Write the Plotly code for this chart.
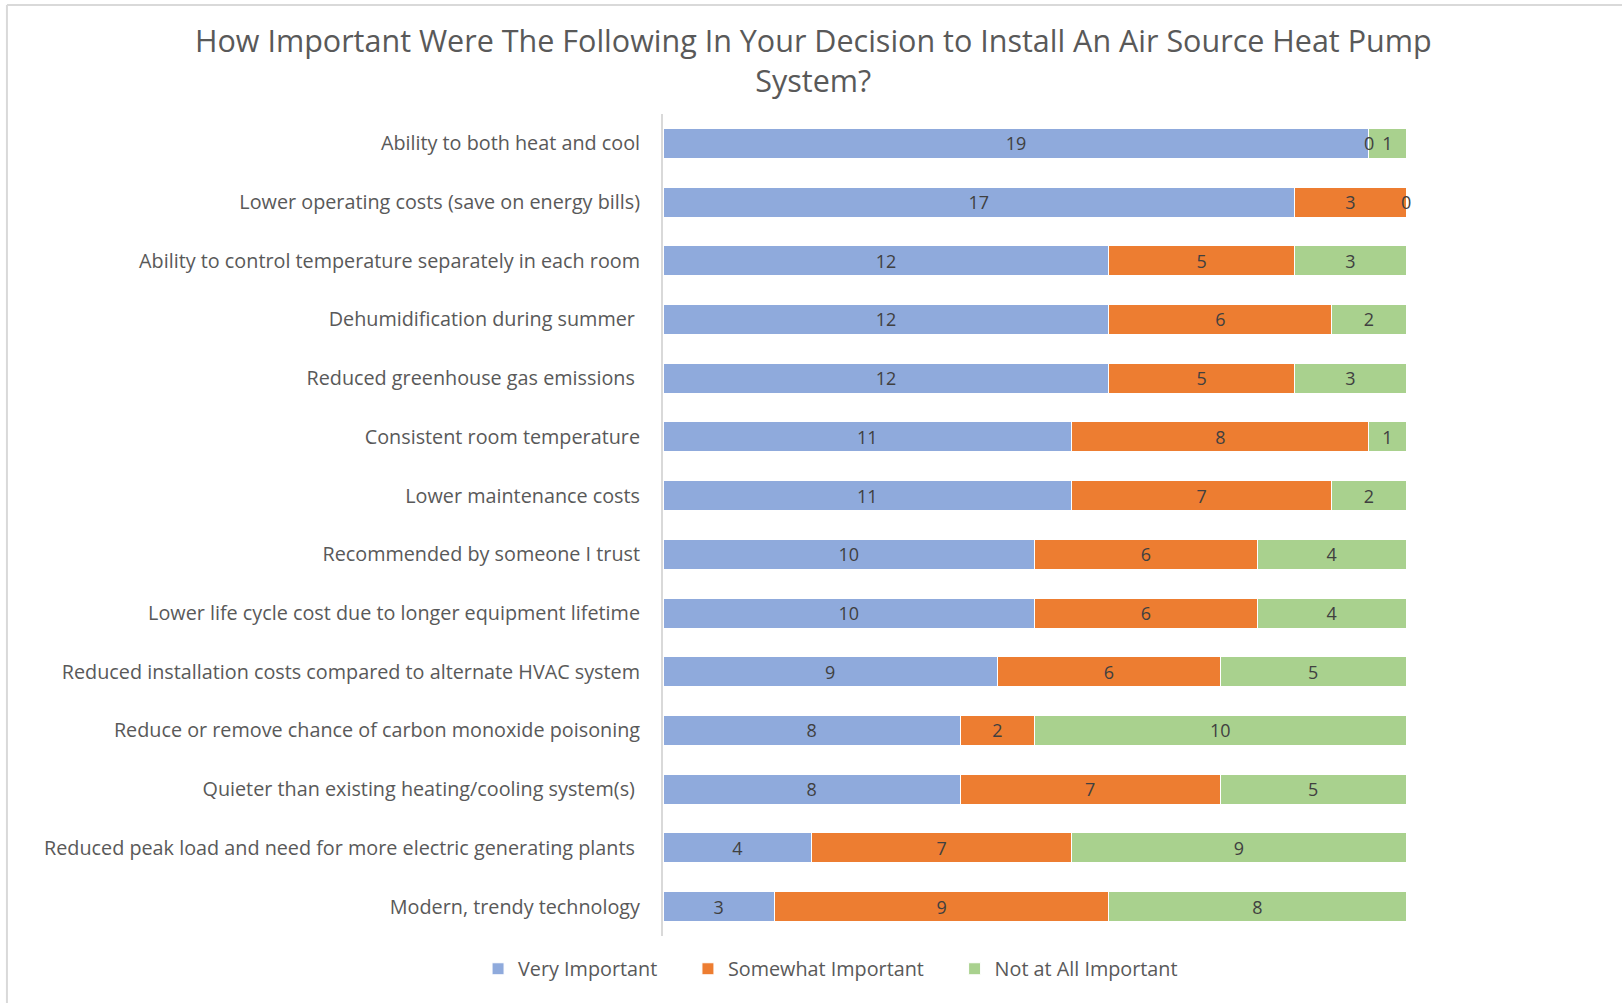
import plotly.graph_objects as go

categories = [
    "Ability to both heat and cool",
    "Lower operating costs (save on energy bills)",
    "Ability to control temperature separately in each room",
    "Dehumidification during summer ",
    "Reduced greenhouse gas emissions ",
    "Consistent room temperature",
    "Lower maintenance costs",
    "Recommended by someone I trust",
    "Lower life cycle cost due to longer equipment lifetime",
    "Reduced installation costs compared to alternate HVAC system",
    "Reduce or remove chance of carbon monoxide poisoning",
    "Quieter than existing heating/cooling system(s) ",
    "Reduced peak load and need for more electric generating plants ",
    "Modern, trendy technology",
]
very_important = [19, 17, 12, 12, 12, 11, 11, 10, 10, 9, 8, 8, 4, 3]
somewhat_important = [0, 3, 5, 6, 5, 8, 7, 6, 6, 6, 2, 7, 7, 9]
not_important = [1, 0, 3, 2, 3, 1, 2, 4, 4, 5, 10, 5, 9, 8]

series = [
    ("Very Important", very_important, "#8FAADC"),
    ("Somewhat Important", somewhat_important, "#ED7D31"),
    ("Not at All Important", not_important, "#A9D18E"),
]

FONT = "Open Sans"
LABEL_COLOR = "#404040"
TEXT_COLOR = "#595959"
PAD = "\u00a0" * 5  # extra room between legend entries

fig = go.Figure()
notes = []
base = [0] * len(categories)
for name, vals, color in series:
    fig.add_trace(go.Bar(
        name=name + PAD,
        y=categories,
        x=vals,
        orientation="h",
        marker=dict(color=color, line=dict(color="white", width=1)),
        text=[str(v) if v else "" for v in vals],
        textposition="inside",
        insidetextanchor="middle",
        textangle=0,
        textfont=dict(family=FONT, size=18, color=LABEL_COLOR),
        hoverinfo="skip",
    ))
    # zero-width segments still get their "0" label at the segment position
    for i, v in enumerate(vals):
        if v == 0:
            notes.append(dict(
                x=base[i], y=categories[i], xref="x", yref="y",
                text="0", showarrow=False,
                font=dict(family=FONT, size=18, color=LABEL_COLOR),
            ))
    base = [b + v for b, v in zip(base, vals)]

# chart title
notes.append(dict(
    text="How Important Were The Following In Your Decision to Install An Air Source Heat Pump<br>System?",
    xref="paper", yref="paper", x=0.203, y=1.0657,
    xanchor="center", yanchor="middle", showarrow=False,
    font=dict(family=FONT, size=30.5, color=TEXT_COLOR),
))

# outer frame of the chart area
frame = dict(type="line", xref="paper", yref="paper",
             line=dict(color="#D9D9D9", width=2), layer="below")
shapes = [
    dict(frame, x0=-0.883, x1=1.4, y0=1.1326, y1=1.1326),
    dict(frame, x0=-0.883, x1=-0.883, y0=-0.2, y1=1.1326),
]

fig.update_layout(
    barmode="stack",
    bargap=0.49,
    width=1622,
    height=1003,
    margin=dict(l=663, r=216, t=114, b=67),
    paper_bgcolor="white",
    plot_bgcolor="white",
    font=dict(family=FONT, color=TEXT_COLOR),
    xaxis=dict(
        range=[0, 20],
        visible=False,
        fixedrange=True,
    ),
    yaxis=dict(
        autorange="reversed",
        showline=True,
        linecolor="#D9D9D9",
        linewidth=2,
        ticks="",
        ticklabelstandoff=17,
        tickfont=dict(family=FONT, size=19.8, color=TEXT_COLOR),
        showgrid=False,
    ),
    legend=dict(
        orientation="h",
        x=0.243, xanchor="center",
        y=-0.04, yanchor="middle",
        font=dict(family=FONT, size=19.8, color=TEXT_COLOR),
        itemwidth=30,
        traceorder="normal",
    ),
    annotations=notes,
    shapes=shapes,
    showlegend=True,
)

fig.write_html("out.html")
